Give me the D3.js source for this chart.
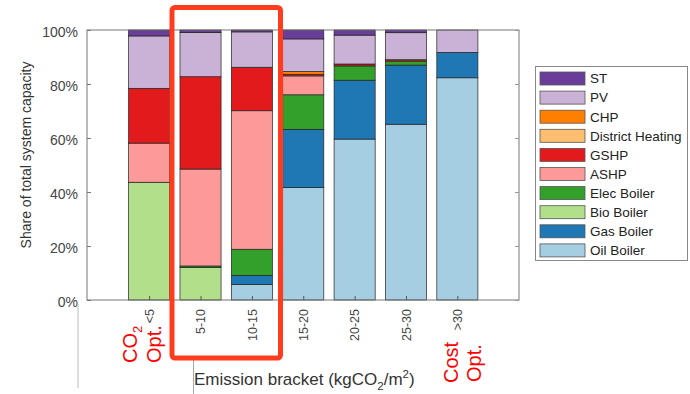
<!DOCTYPE html>
<html>
<head>
<meta charset="utf-8">
<script src="https://cdn.jsdelivr.net/npm/d3@7"></script>
<style>
  body { margin: 0; background: #fff; }
  svg text { font-family: "Liberation Sans", Arial, sans-serif; }
</style>
</head>
<body>
<div id="graph"></div>
<script>
// emission brackets (bars) and stacked series, bottom to top
const brackets = ['<5', '5-10', '10-15', '15-20', '20-25', '25-30', '>30'];
const series = ['Oil Boiler', 'Gas Boiler', 'Bio Boiler', 'Elec Boiler', 'ASHP', 'GSHP', 'District Heating', 'CHP', 'PV', 'ST'];
const colors = ['#a6cee3', '#1f78b4', '#b2df8a', '#33a02c', '#fb9a99', '#e31a1c', '#fdbf6f', '#ff7f00', '#cab2d6', '#6a3d9a'];

const oilBoiler  = [0, 0, 5.8, 41.7, 59.6, 65.1, 82.3];
const gasBoiler  = [0, 0, 3.3, 21.5, 21.8, 21.9, 9.4];
const bioBoiler  = [43.6, 12.0, 0, 0, 0, 0, 0];
const elecBoiler = [0, 0.6, 9.7, 12.8, 5.3, 1.5, 0];
const ashp       = [14.5, 35.9, 51.3, 7.0, 0, 0, 0];
const gshp       = [20.3, 34.2, 16.1, 0.6, 0.7, 0.5, 0];
const district   = [0, 0, 0, 0, 0, 0, 0];
const chp        = [0, 0, 0, 1.0, 0, 0, 0];
const pv         = [19.4, 16.4, 13.1, 12.1, 10.7, 10.0, 8.3];
const st         = [2.2, 0.9, 0.7, 3.3, 1.9, 1.0, 0];

const yTicks = [0, 20, 40, 60, 80, 100];
const legendOrder = ['ST', 'PV', 'CHP', 'District Heating', 'GSHP', 'ASHP', 'Elec Boiler', 'Bio Boiler', 'Gas Boiler', 'Oil Boiler'];

const values = [oilBoiler, gasBoiler, bioBoiler, elecBoiler, ashp, gshp, district, chp, pv, st];
const table = brackets.map((b, i) => {
  const row = {bracket: b, pos: i + 1};
  series.forEach((s, k) => row[s] = values[k][i]);
  return row;
});

const w = 690, h = 394;
const pLeft = 87, pRight = 519, pTop = 30, pBottom = 300;

const svg = d3.select('#graph').append('svg').attr('width', w).attr('height', h);

const xScale = d3.scaleLinear().domain([-0.21, 8.2]).range([pLeft, pRight]);
const yScale = d3.scaleLinear().domain([0, 100]).range([pBottom, pTop]);
const barW = (xScale(1) - xScale(0)) * 0.8;

const stack = d3.stack().keys(series)(table);

svg.append('g').selectAll('g').data(stack).enter().append('g')
    .attr('fill', (d, i) => colors[i])
  .selectAll('rect').data(d => d).enter().append('rect')
    .attr('x', d => xScale(d.data.pos) - barW / 2)
    .attr('width', barW)
    .attr('y', d => yScale(d[1]))
    .attr('height', d => yScale(d[0]) - yScale(d[1]))
    .attr('stroke', '#222').attr('stroke-width', 0.7);

// box and ticks (inward, MATLAB style)
svg.append('rect').attr('x', pLeft).attr('y', pTop).attr('width', pRight - pLeft).attr('height', pBottom - pTop)
    .attr('fill', 'none').attr('stroke', '#777').attr('stroke-width', 1);

const yAxis = d3.axisLeft(yScale).tickValues(yTicks).tickSizeInner(-4).tickSizeOuter(0).tickPadding(9)
    .tickFormat(d => d + '%');
const gy = svg.append('g').attr('transform', 'translate(' + pLeft + ',0)').call(yAxis);
gy.select('.domain').remove();
gy.selectAll('line').attr('stroke', '#777');
gy.selectAll('text').attr('font-size', '14px').attr('fill', '#444').attr('dy', '0.45em');

const yRight = d3.axisRight(yScale).tickValues(yTicks).tickSizeInner(-4).tickSizeOuter(0).tickFormat('');
const gr = svg.append('g').attr('transform', 'translate(' + pRight + ',0)').call(yRight);
gr.select('.domain').remove();
gr.selectAll('line').attr('stroke', '#999');

const xAxis = d3.axisBottom(xScale).tickValues(d3.range(1, 8)).tickSizeInner(-4).tickSizeOuter(0)
    .tickFormat(d => brackets[d - 1]);
const gx = svg.append('g').attr('transform', 'translate(0,' + pBottom + ')').call(xAxis);
gx.select('.domain').remove();
gx.selectAll('line').attr('stroke', '#555');
gx.selectAll('text')
    .attr('font-size', '12.5px').attr('fill', '#444')
    .attr('text-anchor', 'end')
    .attr('transform', 'rotate(-90)')
    .attr('x', -9).attr('y', 0).attr('dy', '0.35em');

// axis titles
svg.append('text')
    .attr('transform', 'translate(30.5,155) rotate(-90)')
    .attr('text-anchor', 'middle').attr('font-size', '14px').attr('fill', '#333')
    .text('Share of total system capacity');

const xt = svg.append('text').attr('x', 194).attr('y', 385).attr('font-size', '17px').attr('fill', '#333');
xt.append('tspan').text('Emission bracket (kgCO');
xt.append('tspan').attr('font-size', '11.5px').attr('dy', 5).text('2');
xt.append('tspan').attr('dy', -5).text('/m');
xt.append('tspan').attr('font-size', '11.5px').attr('dy', -7).text('2');
xt.append('tspan').attr('dy', 7).text(')');

// stray frame lines from the source figure
svg.append('line').attr('x1', 193.5).attr('x2', 193.5).attr('y1', 358).attr('y2', 394).attr('stroke', '#aaa');
svg.append('line').attr('x1', 78).attr('x2', 78).attr('y1', 304).attr('y2', 388).attr('stroke', '#bbb');

// legend
const lg = svg.append('g');
lg.append('rect').attr('x', 535.5).attr('y', 66.5).attr('width', 152).attr('height', 194)
    .attr('fill', '#fff').attr('stroke', '#888');
const rows = lg.selectAll('g.row').data(legendOrder).enter().append('g')
    .attr('transform', (d, i) => 'translate(540,' + (72 + i * 19.1) + ')');
rows.append('rect').attr('width', 45).attr('height', 13)
    .attr('fill', d => colors[series.indexOf(d)]).attr('stroke', '#555').attr('stroke-width', 0.8);
rows.append('text').attr('x', 50).attr('y', 6.5).attr('dy', '0.36em')
    .attr('font-size', '13.5px').attr('fill', '#222').text(d => d);

// red annotations
const red = '#ff0000';
const co2 = svg.append('text').attr('transform', 'translate(136.5,363) rotate(-90)')
    .attr('font-size', '20px').attr('fill', red);
co2.append('tspan').text('CO');
co2.append('tspan').attr('font-size', '13px').attr('dy', 5).text('2');
svg.append('text').attr('transform', 'translate(160.5,363) rotate(-90)')
    .attr('font-size', '20px').attr('fill', red).text('Opt.');
svg.append('text').attr('transform', 'translate(457.5,383) rotate(-90)')
    .attr('font-size', '20px').attr('fill', red).text('Cost');
svg.append('text').attr('transform', 'translate(481,382) rotate(-90)')
    .attr('font-size', '20px').attr('fill', red).text('Opt.');

svg.append('rect').attr('x', 172).attr('y', 7.5).attr('width', 108.5).attr('height', 350.5).attr('rx', 3)
    .attr('fill', 'none').attr('stroke', '#ff3c1e').attr('stroke-width', 5);
</script>
</body>
</html>
